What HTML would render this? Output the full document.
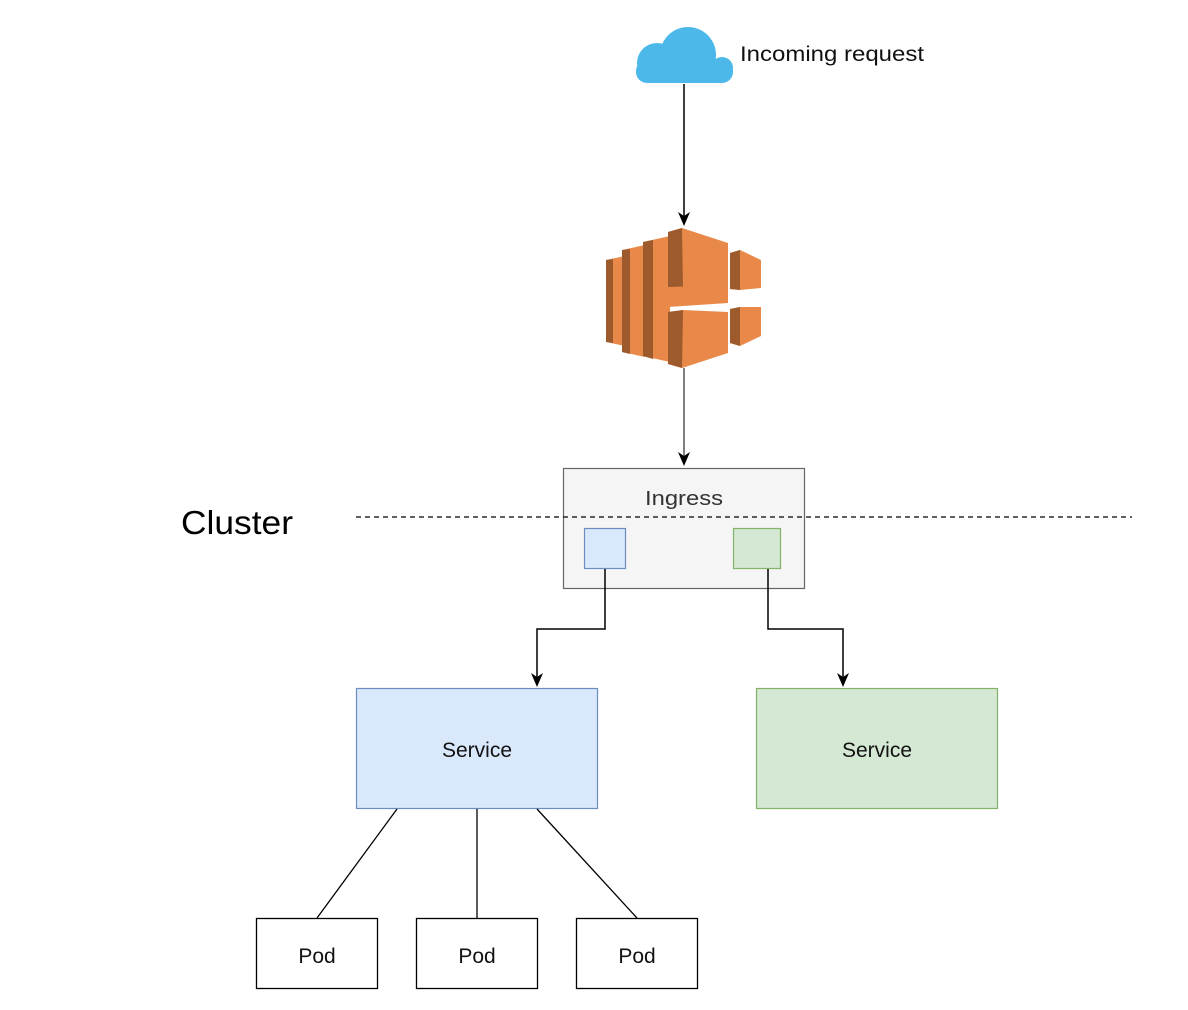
<!DOCTYPE html>
<html><head><meta charset="utf-8"><style>
html,body{margin:0;padding:0;background:#fff;}
svg{display:block;}
text{font-family:"Liberation Sans",Arial,sans-serif;}
</style></head><body>
<svg width="1188" height="1010" viewBox="0 0 1188 1010" xmlns="http://www.w3.org/2000/svg">
<!-- cloud -->
<g fill="#4cb8e9">
<circle cx="688" cy="55" r="28"/><circle cx="657" cy="63" r="20"/><circle cx="722" cy="68" r="11"/>
<rect x="636" y="60" width="97" height="23" rx="11"/>
</g>
<text x="740" y="61" font-size="21" fill="#111" textLength="184" lengthAdjust="spacingAndGlyphs">Incoming request</text>
<line x1="684" y1="84" x2="684" y2="217" stroke="#000" stroke-width="1.5"/>
<path d="M678,212 L684,226 L690,212 L684,216 Z" fill="#000"/>
<!-- ELB icon -->
<g>
<polygon points="606,260 625,256 625,346 606,342" fill="#e8894a"/>
<polygon points="606,260 613,259 613,343 606,342" fill="#9d5a2c"/>
<polygon points="622,250 645,245 645,357 622,352" fill="#e8894a"/>
<polygon points="622,250 630,249 630,354 622,352" fill="#9d5a2c"/>
<polygon points="643,242 670,236 670,362 643,356" fill="#e8894a"/>
<polygon points="643,242 653,240 653,359 643,356" fill="#9d5a2c"/>
<polygon points="668,232 682,228 728,243 728,285 683,289 668,287" fill="#e8894a"/>
<polygon points="668,232 682,228 683,289 668,287" fill="#9d5a2c"/>
<polygon points="668,287 728,285 728,303 668,307" fill="#e8894a"/>
<polygon points="668,312 683,310 728,312 728,353 682,368 668,364" fill="#e8894a"/>
<polygon points="668,312 683,310 682,368 668,364" fill="#9d5a2c"/>
<polygon points="730,253 740,250 761,260 761,288 740,290 730,289" fill="#e8894a"/>
<polygon points="730,253 740,250 740,290 730,289" fill="#9d5a2c"/>
<polygon points="730,309 740,307 761,307 761,336 740,346 730,343" fill="#e8894a"/>
<polygon points="730,309 740,307 740,346 730,343" fill="#9d5a2c"/>
</g>
<line x1="684" y1="368" x2="684" y2="457" stroke="#555" stroke-width="1.5"/>
<path d="M678,452 L684,466 L690,452 L684,456 Z" fill="#000"/>
<!-- Ingress -->
<rect x="563.5" y="468.5" width="241" height="120" fill="#f5f5f5" stroke="#666" stroke-width="1.2"/>
<text x="684" y="505" font-size="20" fill="#333" text-anchor="middle" textLength="78" lengthAdjust="spacingAndGlyphs">Ingress</text>
<text x="181" y="534" font-size="33" fill="#000" textLength="112" lengthAdjust="spacingAndGlyphs">Cluster</text>
<line x1="356" y1="517" x2="1132" y2="517" stroke="#000" stroke-width="1.2" stroke-dasharray="5,4"/>
<rect x="584.5" y="528.5" width="41" height="40" fill="#dae8fc" stroke="#6c8ebf" stroke-width="1.2"/>
<rect x="733.5" y="528.5" width="47" height="40" fill="#d5e8d4" stroke="#82b366" stroke-width="1.2"/>
<polyline points="605,569 605,629 537,629 537,677" fill="none" stroke="#000" stroke-width="1.5"/>
<path d="M531,673 L537,687 L543,673 L537,677 Z" fill="#000"/>
<polyline points="768,569 768,629 843,629 843,677" fill="none" stroke="#000" stroke-width="1.5"/>
<path d="M837,673 L843,687 L849,673 L843,677 Z" fill="#000"/>
<!-- Services -->
<rect x="356.5" y="688.5" width="241" height="120" fill="#dae8fc" stroke="#6c8ebf" stroke-width="1.2"/>
<text x="477" y="757" font-size="21" fill="#111" text-anchor="middle">Service</text>
<rect x="756.5" y="688.5" width="241" height="120" fill="#d5e8d4" stroke="#82b366" stroke-width="1.2"/>
<text x="877" y="757" font-size="21" fill="#111" text-anchor="middle">Service</text>
<line x1="397" y1="809" x2="317" y2="918" stroke="#000" stroke-width="1.3"/>
<line x1="477" y1="809" x2="477" y2="918" stroke="#000" stroke-width="1.3"/>
<line x1="537" y1="809" x2="637" y2="918" stroke="#000" stroke-width="1.3"/>
<!-- Pods -->
<rect x="256.5" y="918.5" width="121" height="70" fill="#fff" stroke="#000" stroke-width="1.3"/>
<text x="317" y="963" font-size="21" fill="#111" text-anchor="middle">Pod</text>
<rect x="416.5" y="918.5" width="121" height="70" fill="#fff" stroke="#000" stroke-width="1.3"/>
<text x="477" y="963" font-size="21" fill="#111" text-anchor="middle">Pod</text>
<rect x="576.5" y="918.5" width="121" height="70" fill="#fff" stroke="#000" stroke-width="1.3"/>
<text x="637" y="963" font-size="21" fill="#111" text-anchor="middle">Pod</text>
</svg>
</body></html>
